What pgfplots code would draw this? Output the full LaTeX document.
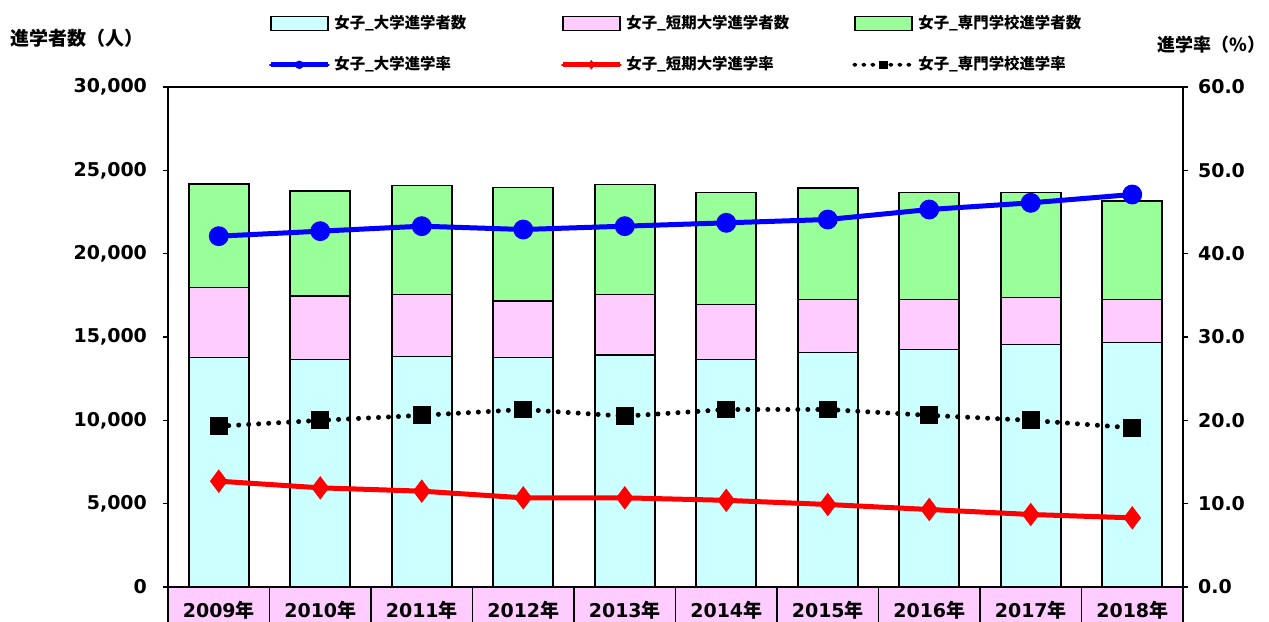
\documentclass[border=0pt]{standalone}
\usepackage{fontspec}
\usepackage{pgfplots}
\pgfplotsset{compat=1.18}
\usepackage{pgfplotstable}
\setmainfont{DejaVu Sans}
\newfontfamily\jp{Noto Sans CJK JP}
\definecolor{cyanb}{HTML}{CCFFFF}
\definecolor{pinkb}{HTML}{FFCCFF}
\definecolor{greenb}{HTML}{99FF99}
\newcommand\nen{{\jp 年}}
\newcommand\lt[1]{\makebox[98pt][l]{#1}}
\pgfplotstableread{
x univ junior voc
0 13760 4200 6220
1 13660 3800 6300
2 13840 3720 6520
3 13760 3400 6800
4 13920 3640 6600
5 13640 3300 6720
6 14060 3180 6700
7 14240 3000 6420
8 14560 2800 6300
9 14660 2580 5920
}\counts
\pgfplotstableread{
x univ junior voc
0 42.1 12.7 19.3
1 42.7 11.9 20.0
2 43.3 11.5 20.6
3 42.9 10.7 21.3
4 43.3 10.7 20.5
5 43.7 10.4 21.3
6 44.1 9.9 21.3
7 45.3 9.3 20.6
8 46.1 8.7 20.0
9 47.1 8.3 19.1
}\rates
\begin{document}
\begin{tikzpicture}
\pgfplotsset{
  barleg/.style={legend image code/.code={\draw[##1, line width=0.8pt] (0pt,-3.5pt) rectangle (28.5pt,3.5pt);}},
  lineleg/.style={legend image code/.code={\draw[##1, mark=none] (0pt,0pt) -- (28.5pt,0pt);
     \draw[##1, mark size=1.6pt, line width=1pt, mark options={solid}] plot coordinates {(14.25pt,0pt)};}},
}
\begin{axis}[
  name=ax, at={(0,0)}, anchor=south west, scale only axis,
  width=507.5pt, height=250pt,
  xmin=-0.5, xmax=9.5, ymin=0, ymax=30000,
  ybar stacked, bar width=30pt,
  xtick={0,...,9},
  xticklabels={2009\nen,2010\nen,2011\nen,2012\nen,2013\nen,2014\nen,2015\nen,2016\nen,2017\nen,2018\nen},
  x tick style={draw=none},
  ytick={0,5000,...,30000}, ytick pos=left,
  tick align=outside, major tick length=2.5pt,
  axis line style={line width=0.8pt},
  y tick style={line width=0.8pt, black},
  scaled y ticks=false,
  /pgf/number format/assume math mode=true,
  /pgf/number format/fixed,
  /pgf/number format/1000 sep={,},
  tick label style={font=\bfseries\fontsize{9.5}{11}\selectfont},
  yticklabel style={xshift=-4.5pt},
  xticklabel style={draw=black, line width=0.8pt, fill=pinkb, minimum width=50.75pt, minimum height=23pt, inner sep=0pt, anchor=north, yshift=3pt},
  legend columns=3,
  legend style={draw=none, fill=none, inner sep=0pt, at={(0.0985,1.152)}, anchor=north west,
    font=\jp\bfseries\fontsize{7.7}{9.2}\selectfont,
    /tikz/every even column/.append style={column sep=13pt},
    row sep=8.5pt, cells={anchor=west}},
]
\addplot[fill=cyanb, draw=black, line width=0.8pt, barleg] table[x=x, y=univ] {\counts};
\addlegendentry{\lt{女子\_大学進学者数}}
\addplot[fill=pinkb, draw=black, line width=0.8pt, barleg] table[x=x, y=junior] {\counts};
\addlegendentry{\lt{女子\_短期大学進学者数}}
\addplot[fill=greenb, draw=black, line width=0.8pt, barleg] table[x=x, y=voc] {\counts};
\addlegendentry{\lt{女子\_専門学校進学者数}}
\addlegendimage{lineleg, blue, line width=2.5pt, mark=*}
\addlegendentry{\lt{女子\_大学進学率}}
\addlegendimage{lineleg, red, line width=2.5pt, mark=diamond*}
\addlegendentry{\lt{女子\_短期大学進学率}}
\addlegendimage{lineleg, black, line width=2pt, dash pattern=on 0pt off 4.5pt, line cap=round, mark=square*}
\addlegendentry{\lt{女子\_専門学校進学率}}
\end{axis}
\begin{axis}[
  at={(0,0)}, anchor=south west, scale only axis,
  width=507.5pt, height=250pt,
  xmin=-0.5, xmax=9.5, ymin=0, ymax=60,
  axis x line=none, axis y line*=right,
  ytick={0,10,...,60},
  tick align=outside, major tick length=2.5pt,
  axis line style={line width=0.8pt},
  y tick style={line width=0.8pt, black},
  /pgf/number format/assume math mode=true,
  /pgf/number format/fixed,
  /pgf/number format/fixed zerofill,
  /pgf/number format/precision=1,
  tick label style={font=\bfseries\fontsize{9.5}{11}\selectfont},
  yticklabel style={xshift=1.5pt},
]
\addplot[blue, line width=2.5pt, mark=*, mark size=3.7pt] table[x=x, y=univ] {\rates};
\addplot[red, line width=2.5pt, mark=diamond*, mark size=3.8pt] table[x=x, y=junior] {\rates};
\addplot[black, line width=2.5pt, dash pattern=on 0pt off 5pt, line cap=round, mark=square*, mark size=3.2pt, mark options={solid}] table[x=x, y=voc] {\rates};
\end{axis}
\node[anchor=west, inner sep=0pt, font=\jp\bfseries\fontsize{9.5}{11}\selectfont] at ([xshift=-79pt,yshift=24.5pt]ax.north west) {進学者数（人）};
\node[anchor=west, inner sep=0pt, font=\jp\bfseries\fontsize{9}{11}\selectfont] at ([xshift=-13pt,yshift=21pt]ax.north east) {進学率（\%）};
\pgfresetboundingbox
\path[use as bounding box] ([xshift=-84pt,yshift=-17.5pt]ax.south west) rectangle ([xshift=43pt,yshift=43.5pt]ax.north east);
\end{tikzpicture}
\end{document}
